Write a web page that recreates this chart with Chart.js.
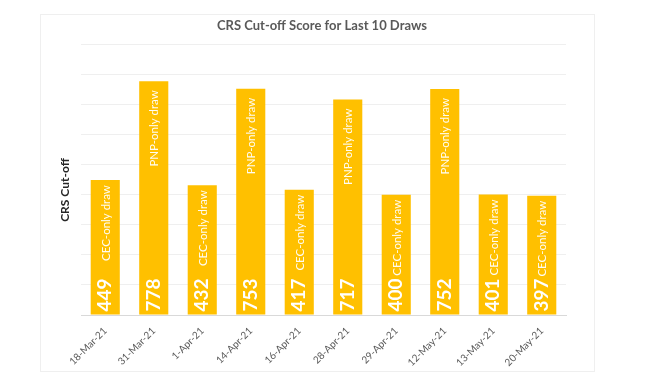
<!DOCTYPE html>
<html>
<head>
<meta charset="utf-8">
<script src="https://cdn.jsdelivr.net/npm/chart.js@4.4.0/dist/chart.umd.min.js"></script>
<style>
  body { margin: 0; background: #fff; }
  #frame {
    position: absolute; left: 40px; top: 14px;
    width: 555px; height: 358px;
    border: 1px solid #efefef; box-sizing: border-box;
  }
</style>
</head>
<body>
<div id="frame"><canvas id="crs-chart"></canvas></div>
<script>
// Dates des tirages
const drawDates = ['18-Mar-21', '31-Mar-21', '1-Apr-21', '14-Apr-21', '16-Apr-21',
  '28-Apr-21', '29-Apr-21', '12-May-21', '13-May-21', '20-May-21'];
// Score CRS minimum
const cutoffScores = [449, 778, 432, 753, 417, 717, 400, 752, 401, 397];
// Type de tirage
const drawTypes = ['CEC-only draw', 'PNP-only draw', 'CEC-only draw', 'PNP-only draw', 'CEC-only draw',
  'PNP-only draw', 'CEC-only draw', 'PNP-only draw', 'CEC-only draw', 'CEC-only draw'];

const FONT = "Lato, 'Open Sans', sans-serif";

// labels verticaux dans les barres + titre de l'axe Y
const barLabels = {
  id: 'barLabels',
  afterDatasetsDraw(chart) {
    const ctx = chart.ctx;
    chart.getDatasetMeta(0).data.forEach((bar, i) => {
      ctx.save();
      ctx.translate(bar.x, bar.base);
      ctx.rotate(-Math.PI / 2);
      ctx.fillStyle = '#ffffff';
      ctx.textBaseline = 'middle';
      ctx.textAlign = 'left';
      ctx.font = 'bold 19px ' + FONT;
      ctx.fillText(String(cutoffScores[i]), 3, 0);
      ctx.font = '11.5px ' + FONT;
      ctx.fillStyle = 'rgba(255,255,255,0.95)';
      ctx.textAlign = 'right';
      const pad = drawTypes[i].startsWith('PNP') ? 9 : 5;
      ctx.fillText(drawTypes[i], bar.base - bar.y - pad, 1);
      ctx.restore();
    });
    // titre de l'axe Y
    ctx.save();
    ctx.translate(24, 175);
    ctx.rotate(-Math.PI / 2);
    ctx.fillStyle = '#262626';
    ctx.font = 'bold 12px ' + FONT;
    ctx.textAlign = 'center';
    ctx.textBaseline = 'middle';
    ctx.fillText('CRS Cut-off', 0, 0);
    ctx.restore();
  }
};

new Chart(document.getElementById('crs-chart'), {
  type: 'bar',
  data: {
    labels: drawDates,
    datasets: [{
      data: cutoffScores,
      backgroundColor: '#FFC000',
      barPercentage: 0.6,
      categoryPercentage: 1.0
    }]
  },
  options: {
    responsive: true,
    maintainAspectRatio: false,
    animation: false,
    layout: { padding: { left: 37, right: 28, top: 2, bottom: 0 } },
    plugins: {
      legend: { display: false },
      tooltip: { enabled: false },
      title: {
        display: true,
        text: 'CRS Cut-off Score for Last 10 Draws',
        color: '#595959',
        font: { family: FONT, size: 13, weight: 'bold' },
        padding: { top: 1, bottom: 11 }
      }
    },
    scales: {
      x: {
        grid: { display: false },
        border: { color: '#d9d9d9' },
        ticks: {
          color: '#595959',
          font: { family: FONT, size: 10 },
          minRotation: 45,
          maxRotation: 45,
          padding: 2
        },
        afterFit(scale) { scale.height = 56; }
      },
      y: {
        min: 0,
        max: 900,
        grid: { color: '#efefef', drawTicks: false },
        border: { display: false },
        ticks: { display: false, stepSize: 100 },
        afterFit(scale) { scale.width = 3; }
      }
    }
  },
  plugins: [barLabels]
});
</script>
</body>
</html>
